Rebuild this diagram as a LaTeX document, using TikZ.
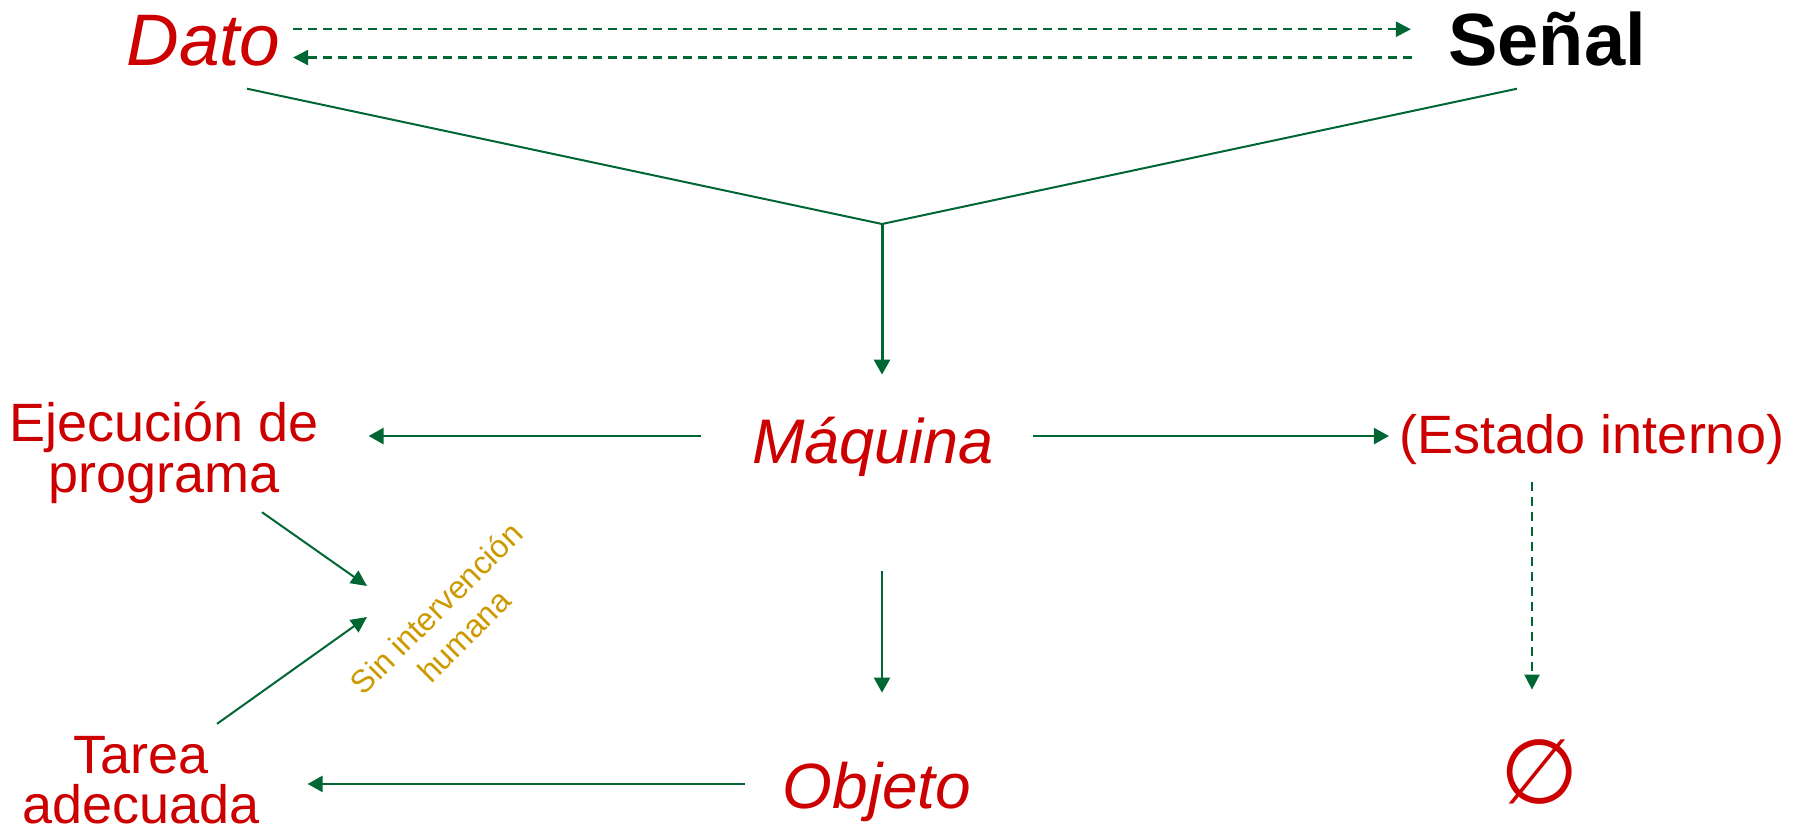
\documentclass[tikz,border=0pt]{standalone}
\usepackage{fontspec}
\setmainfont{Liberation Sans}
\newfontfamily\symfont{DejaVu Sans}
\usetikzlibrary{arrows.meta}
\definecolor{dgreen}{RGB}{0,102,51}
\definecolor{dred}{RGB}{204,0,0}
\definecolor{gold}{RGB}{204,153,0}
\newcommand\fsz[2]{\fontsize{#1}{#2}\selectfont}

\begin{document}
\begin{tikzpicture}[x=0.5pt,y=-0.5pt,
  lbl/.style={inner sep=0pt, outer sep=0pt, text=dred},
  conn/.style={draw=dgreen, line width=1pt},
  arr/.style={conn, line width=1.3pt, -{Triangle[length=7.5pt,width=8pt]}},
  thinarr/.style={conn, -{Triangle[length=8pt,width=7.5pt]}},
  dasharr/.style={conn, line width=1.2pt, dash pattern=on 4.5pt off 3pt, -{Triangle[length=7.5pt,width=7.5pt]}},
]
\useasboundingbox (0,0) rectangle (1798,828);

% labels (multi-line ones are placed by the baseline of their last line)
\node[lbl, anchor=base, font=\fsz{36.5}{40}\itshape] (dato) at (203.5,66) {Dato};
\node[lbl, anchor=base, text=black, font=\fsz{37}{40}\bfseries] (senal) at (1547,66) {Señal};
\node[lbl, anchor=base, font=\fsz{31.5}{36}\itshape] (maq) at (873,463) {Máquina};
\node[lbl, anchor=base, font=\fsz{32}{36}\itshape] (obj) at (877,808) {Objeto};
\node[lbl, anchor=base, font=\fsz{27}{25}] (estado) at (1592,453) {(Estado interno)};
\node[lbl, anchor=base, align=center, font=\fsz{27}{25}] (ejec) at (164,492) {Ejecución de\\programa};
\node[lbl, anchor=base, align=center, font=\fsz{27}{25}] (tarea) at (141,823) {Tarea\\adecuada};
\node[lbl, text=gold, rotate=45, align=center, font=\fsz{16}{19.5}] (sin) at (450,622) {Sin intervención\\humana};
\node[lbl, font=\symfont\fsz{45}{50}] (vacio) at (1540,772) {∅};

% meeting point of the two upper branches, and the two hand-off points
\coordinate (join) at (882,224);
\coordinate (h1) at (367,586);
\coordinate (h2) at (367,617);

% dato <-> senal
\draw[dasharr, transform canvas={yshift=6pt}, shorten <=6pt, shorten >=18.7pt]
  (dato.east) -- (dato.east -| senal.west);
\draw[dasharr, transform canvas={yshift=-9pt}, shorten <=18.2pt, shorten >=6.25pt]
  (senal.west) -- (senal.west -| dato.east);

% both feed the machine
\draw[conn, line join=miter] ([shift={(21.75pt,-11pt)}]dato.south) -- (join)
  -- ([shift={(-15pt,-11pt)}]senal.south);
\draw[arr, line width=1.5pt, shorten >=21pt] (join) -- (join |- maq.north);

% outputs of the machine
\draw[arr, transform canvas={yshift=5.15pt}, shorten <=25.6pt, shorten >=25pt]
  (maq.west) -- (maq.west -| ejec.east);
\draw[arr, transform canvas={yshift=5.15pt}, shorten <=19.6pt, shorten >=5.5pt]
  (maq.east) -- (maq.east -| estado.west);
\draw[arr, shorten <=47.4pt, shorten >=34.5pt] (join |- maq.south) -- (join |- obj.north);
\draw[arr, transform canvas={yshift=3.75pt}, shorten <=19pt, shorten >=24pt]
  (obj.west) -- (obj.west -| tarea.east);
\draw[dasharr, transform canvas={xshift=-4pt}, shorten <=9pt, shorten >=25pt]
  (vacio.north |- estado.south) -- (vacio.north);

% no human intervention
\draw[thinarr] ([shift={(49pt,-4.5pt)}]ejec.south) -- (h1);
\draw[thinarr] ([shift={(38pt,6pt)}]tarea.north) -- (h2);
\end{tikzpicture}
\end{document}
